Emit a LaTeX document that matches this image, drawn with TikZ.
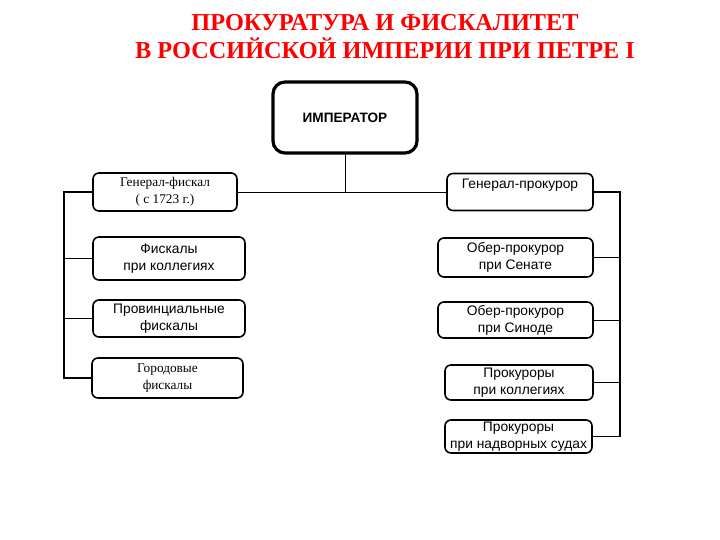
\documentclass[tikz,border=0pt]{standalone}
\usepackage{fontspec}
\setmainfont{Liberation Serif}
\setsansfont{Liberation Sans}
\usetikzlibrary{positioning}

\begin{document}
\begin{tikzpicture}[x=1pt, y=-1pt, every node/.style={font=\fontsize{13.3}{16.5}\selectfont},
    box/.style={draw, rounded corners=6pt, line width=1.6pt, align=center, inner sep=0pt},
    sbox/.style={box, font=\sffamily\fontsize{13.8}{17}\selectfont},
    link/.style={line width=0.9pt},
    bus/.style={line width=1.5pt}]
        % Fix the page size
        \useasboundingbox (0,0) rectangle (720,540);

        % Draw the title
        \node[align=center, text=red, font=\bfseries\fontsize{24.3}{28}\selectfont] (title) at (385,37)
          {ПРОКУРАТУРА И ФИСКАЛИТЕТ\\В РОССИЙСКОЙ ИМПЕРИИ ПРИ ПЕТРЕ I};

        % Draw the emperor
        \node[draw, rounded corners=12pt, line width=3.2pt, minimum width=144, minimum height=71,
          font=\sffamily\bfseries\fontsize{13.6}{16}\selectfont] (emp) at (345,117.5) {ИМПЕРАТОР};

        % Draw the fiscal boxes (left)
        \node[box, minimum width=144, minimum height=38] (gf) at (165,192) {Генерал-фискал\\( с 1723 г.)};
        \node[sbox, minimum width=152, minimum height=43] (fk) at (169,258.5) {Фискалы\\при коллегиях};
        \node[sbox, minimum width=152, minimum height=37] (pf) at (169,318.5) {Провинциальные\\фискалы};
        \node[box, minimum width=151, minimum height=40] (gor) at (167.5,378) {Городовые\\фискалы};

        % Draw the procurator boxes (right)
        \node[sbox, minimum width=146, minimum height=37] (gp) at (520,192) {Генерал-прокурор\\\mbox{}};
        \node[sbox, minimum width=155, minimum height=39] (os) at (515.5,257.5) {Обер-прокурор\\при Сенате};
        \node[sbox, minimum width=155, minimum height=36] (osn) at (515.5,320) {Обер-прокурор\\при Синоде};
        \node[sbox, minimum width=148, minimum height=35] (pk) at (519,382.5) {Прокуроры\\при коллегиях};
        \node[sbox, minimum width=147, minimum height=33] (pn) at (518.5,436.5) {Прокуроры\\при надворных судах};

        % Bus end points
        \coordinate (j) at (emp.south |- gf.east);
        \coordinate (lt) at (64,192);
        \coordinate (rt) at (620,192);

        % Draw the connectors
        \draw[link] (emp.south) -- (j);
        \draw[link] (gf.east) -- (gp.west);

        \draw[bus] (gf.west) -- (lt) |- (gor.west);
        \draw[link] (fk.west) -- (fk.west -| lt);
        \draw[link] (pf.west) -- (pf.west -| lt);

        \draw[bus, line width=1.2pt] (gp.east) -- (rt) |- (pn.east);
        \draw[link] (os.east) -- (os.east -| rt);
        \draw[link] (osn.east) -- (osn.east -| rt);
        \draw[link] (pk.east) -- (pk.east -| rt);
      \end{tikzpicture}
\end{document}
